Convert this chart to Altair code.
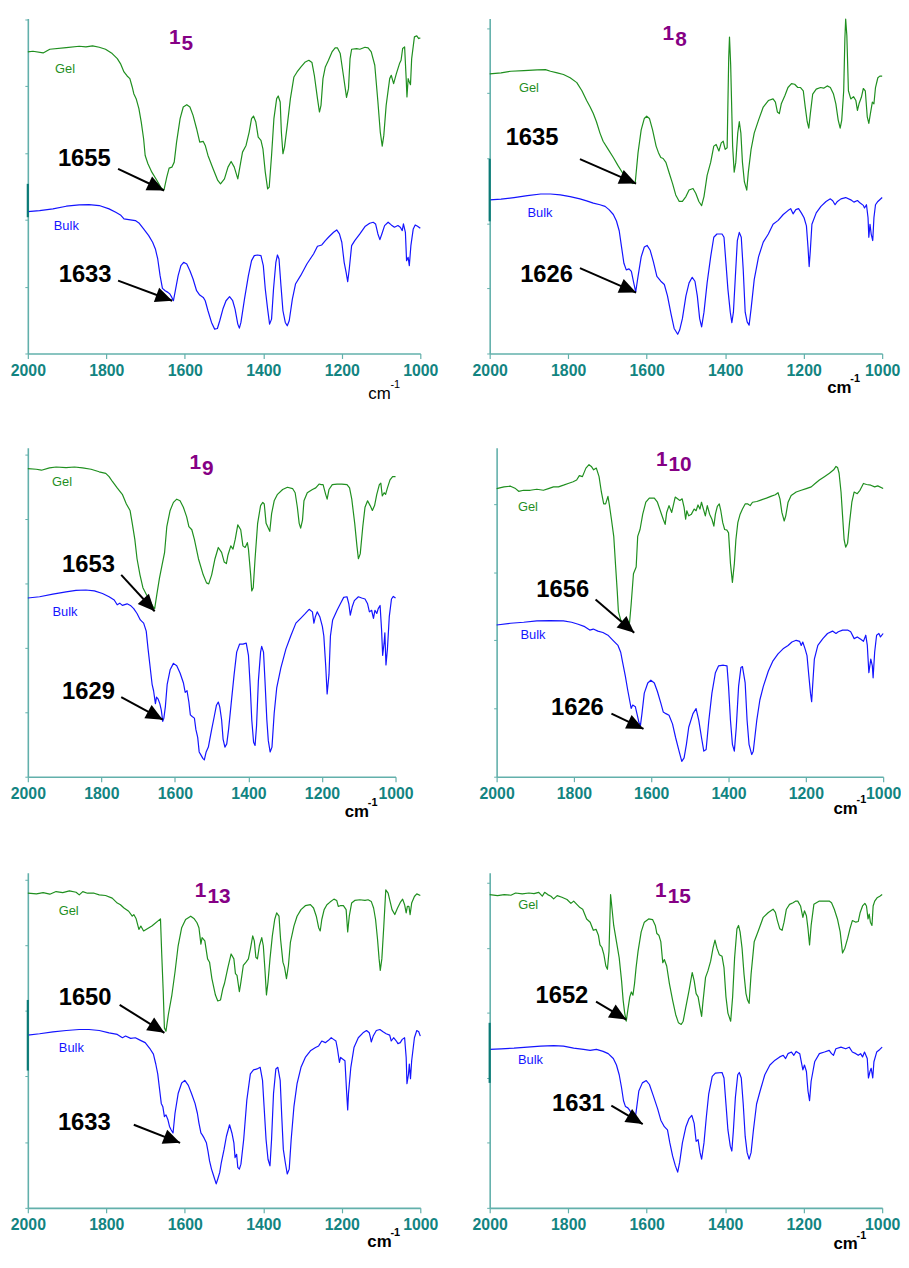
import math
import altair as alt
import pandas as pd

# ---------------- spectra (wavenumber cm-1, relative transmittance) ----------------
p1_gel_x = [2000,1987,1961,1944,1902,1869,1852,1835,1818,1802,1785,1772,1764,1755,1747,1740,1734,1730,1724,1717,
            1711,1705,1701,1694,1684,1671,1659,1653,1646,1640,1633,1627,1621,1612,1604,1595,1587,1579,1570,1562,
            1553,1548,1541,1528,1516,1509,1499,1490,1482,1474,1465,1459,1453,1444,1436,1430,1425,1419,1413,1406,
            1401,1395,1389,1385,1379,1373,1366,1362,1357,1354,1350,1346,1339,1331,1322,1314,1304,1293,1284,1276,
            1270,1262,1257,1253,1248,1242,1234,1225,1217,1211,1204,1196,1188,1183,1179,1175,1162,1154,1141,1133,
            1125,1116,1108,1102,1097,1093,1087,1078,1074,1068,1061,1053,1049,1045,1040,1036,1034,1031,1028,1025,
            1022,1015,1009,1004,1000]
p1_gel_y = [90.3,90.5,90.0,91.1,91.6,92.0,91.8,92.1,91.7,91.1,89.8,88.3,86.8,84.3,83.1,82.3,79.8,77.8,76.3,73.3,
            69.3,64.3,59.3,56.8,54.3,51.8,49.3,49.0,52.8,55.5,55.8,57.3,63.3,70.3,73.8,74.5,73.8,71.3,67.3,63.3,
            63.5,62.3,59.3,55.3,51.8,50.8,52.3,55.8,57.5,55.8,52.3,56.3,60.3,62.3,66.3,70.3,71.1,69.3,64.8,63.8,
            61.3,54.3,49.3,49.8,59.3,70.3,76.3,77.1,75.3,66.3,59.8,61.8,68.3,76.3,82.8,84.3,85.8,87.3,87.8,87.1,
            83.3,76.3,72.3,74.3,82.3,85.8,87.8,90.3,91.5,91.5,89.8,83.3,76.7,79.3,88.3,91.1,91.3,91.1,91.7,91.5,
            90.3,86.3,75.3,66.3,62.1,65.3,74.3,82.3,83.3,80.8,83.8,86.8,87.8,91.3,91.8,82.3,76.8,82.3,81.3,80.5,
            88.3,94.8,95.1,94.3,94.5]
p1_bulk_x = [2000,1970,1936,1902,1869,1844,1818,1793,1776,1764,1755,1743,1726,1717,1705,1692,1682,1675,1669,1663,
             1657,1650,1643,1638,1633,1629,1625,1617,1610,1603,1595,1587,1579,1570,1562,1553,1548,1541,1532,1524,
             1517,1511,1503,1495,1486,1478,1472,1465,1461,1457,1448,1438,1430,1423,1415,1406,1400,1395,1389,1384,
             1379,1374,1368,1364,1360,1355,1350,1344,1339,1334,1326,1318,1305,1289,1272,1262,1251,1242,1234,1221,
             1213,1206,1200,1194,1189,1185,1181,1175,1167,1154,1141,1129,1120,1114,1108,1103,1098,1091,1082,1074,
             1066,1057,1051,1046,1043,1038,1035,1031,1028,1024,1018,1013,1007,1000]
p1_bulk_y = [42.5,42.8,43.3,44.1,44.5,44.6,44.3,43.3,42.3,41.5,40.3,40.1,39.8,39.1,37.3,35.3,33.3,31.3,28.3,23.3,
             19.5,18.8,18.3,17.8,16.8,15.8,18.3,23.3,26.3,27.3,26.8,24.8,22.3,18.8,17.5,16.8,15.8,12.8,9.3,7.3,
             7.5,9.8,13.3,15.8,17.0,15.8,13.3,8.8,7.6,9.3,16.3,23.3,27.8,29.3,29.5,29.3,26.3,19.3,13.3,8.8,
             10.3,19.3,27.3,29.5,28.3,20.3,12.8,9.3,8.3,9.8,16.3,20.8,23.3,26.8,29.8,32.1,32.5,33.8,34.8,36.3,
             37.0,35.8,33.3,27.3,24.3,21.5,25.3,32.3,33.8,35.8,38.0,39.0,39.3,38.8,35.8,34.1,35.8,38.3,39.3,38.5,
             37.8,38.3,37.8,36.8,38.8,36.3,27.8,28.8,26.3,32.3,37.3,38.5,38.1,37.5]

p2_gel_x = [2000,1971,1946,1913,1879,1858,1845,1828,1812,1795,1778,1765,1753,1744,1736,1728,1719,1711,1698,1685,
            1673,1660,1648,1635,1629,1622,1614,1606,1600,1593,1585,1576,1570,1564,1558,1551,1542,1534,1526,1517,
            1509,1500,1492,1482,1475,1467,1460,1454,1446,1437,1429,1423,1416,1410,1405,1400,1395,1391,1389,1386,
            1381,1377,1373,1368,1364,1360,1356,1351,1345,1341,1334,1326,1315,1303,1290,1278,1272,1267,1262,1257,
            1248,1240,1231,1223,1215,1208,1201,1196,1191,1187,1183,1177,1168,1157,1149,1140,1132,1124,1118,1112,
            1107,1103,1098,1095,1093,1090,1086,1080,1073,1067,1063,1059,1053,1048,1043,1038,1034,1030,1025,1021,
            1017,1011,1006,1000]
p2_gel_y = [85.9,86.2,86.7,86.9,87.1,87.2,86.7,86.2,85.7,84.7,83.2,80.7,77.7,75.7,73.7,71.2,67.7,65.2,62.7,60.2,
            57.7,55.2,53.2,52.2,52.7,61.7,68.7,72.2,72.9,72.2,68.7,63.7,61.7,60.2,59.9,58.7,55.2,52.2,48.7,46.7,
            46.7,48.2,50.2,50.7,49.2,46.7,45.4,48.2,54.7,58.7,63.7,64.2,62.2,64.7,65.2,62.7,63.2,90.7,97.2,88.7,
            63.7,55.7,58.7,67.7,71.2,67.7,58.7,52.7,50.2,55.7,62.7,67.7,71.7,75.7,77.7,78.2,77.2,74.2,73.7,76.7,
            79.2,81.7,82.9,82.7,81.7,81.7,80.7,75.7,71.2,69.2,73.7,79.7,81.2,81.7,81.5,82.2,81.7,79.7,76.7,71.7,
            69.2,71.7,80.7,96.7,102.7,97.7,80.7,78.2,78.9,77.7,74.7,76.7,78.7,81.4,80.7,72.7,70.7,73.7,77.2,76.7,
            81.7,84.7,85.2,85.2]
p2_bulk_x = [2000,1971,1938,1904,1870,1845,1820,1795,1770,1753,1736,1719,1706,1696,1685,1677,1670,1664,1658,1652,
             1645,1639,1633,1628,1622,1614,1606,1599,1591,1583,1574,1564,1555,1547,1538,1530,1521,1516,1509,1500,
             1492,1484,1477,1471,1465,1460,1454,1446,1437,1429,1421,1408,1403,1398,1393,1387,1383,1379,1374,1369,
             1364,1359,1354,1349,1344,1339,1334,1326,1315,1303,1290,1278,1265,1252,1240,1233,1227,1220,1213,1206,
             1199,1193,1189,1186,1183,1179,1168,1156,1143,1132,1126,1120,1114,1105,1093,1080,1072,1063,1056,1048,
             1045,1040,1036,1034,1031,1028,1024,1021,1017,1011,1000]
p2_bulk_y = [47.2,47.4,47.9,48.5,49.0,49.0,48.7,48.2,47.5,46.9,46.2,45.7,45.2,44.2,42.7,40.7,37.7,32.7,27.7,25.7,
             26.0,25.2,21.7,18.9,23.7,29.7,32.7,33.2,31.7,28.2,23.7,22.2,21.2,17.7,12.2,7.7,5.9,7.2,10.7,17.7,
             21.7,23.4,22.2,17.7,10.7,8.2,12.7,21.7,29.7,35.7,36.7,36.7,35.7,27.7,19.7,12.7,9.5,12.7,23.7,34.7,
             37.2,35.7,25.7,12.7,9.7,8.7,13.7,22.7,29.7,34.2,36.7,39.7,40.9,42.7,43.9,44.5,42.9,44.2,44.5,43.2,
             41.7,39.2,32.7,26.7,31.7,39.7,43.2,45.2,46.7,47.5,46.9,45.7,46.7,47.5,47.9,47.2,46.5,47.0,46.2,45.5,
             44.7,45.7,41.7,35.7,39.7,36.7,34.7,41.7,45.7,46.7,47.9]

p3_gel_x = [2000,1977,1963,1941,1923,1896,1873,1851,1828,1806,1788,1779,1770,1757,1743,1732,1722,1716,1709,1703,
            1695,1687,1678,1669,1660,1655,1649,1642,1635,1628,1622,1613,1604,1595,1586,1577,1568,1562,1554,1547,
            1536,1523,1514,1508,1500,1491,1482,1473,1466,1460,1456,1448,1442,1436,1429,1421,1415,1409,1403,1400,
            1394,1391,1387,1382,1375,1367,1361,1357,1352,1348,1342,1337,1330,1321,1307,1294,1280,1273,1267,1262,
            1258,1253,1249,1240,1226,1217,1208,1202,1197,1190,1186,1181,1172,1159,1146,1132,1125,1119,1111,1105,
            1101,1096,1089,1083,1076,1069,1063,1057,1051,1044,1040,1036,1031,1027,1022,1015,1008,1000]
p3_gel_y = [95.7,95.5,95.2,95.9,96.2,96.0,96.2,95.9,95.5,94.7,94.2,93.2,91.7,89.7,87.7,84.7,82.7,78.7,73.7,67.7,
            62.7,58.7,56.7,54.7,52.9,52.2,56.7,61.7,65.7,69.7,77.7,82.7,85.2,86.2,85.7,83.7,80.7,77.7,76.7,73.7,
            67.7,62.7,60.2,59.9,62.7,67.7,71.2,69.7,66.7,66.2,68.7,71.7,70.7,73.7,78.2,76.7,71.7,71.2,72.7,70.7,
            62.7,57.7,58.7,67.7,78.7,84.2,85.2,84.7,78.7,77.7,76.2,81.7,85.7,87.7,89.2,89.9,89.5,88.2,83.7,78.7,
            77.2,79.7,85.7,88.2,89.2,89.7,90.9,90.7,90.7,87.7,86.2,89.2,90.7,90.9,90.9,90.7,89.7,86.2,78.7,71.7,
            67.7,69.2,77.7,83.7,85.7,84.2,82.7,84.2,87.7,90.7,91.2,87.2,88.2,87.7,89.7,92.2,93.2,93.2]
p3_bulk_x = [2000,1968,1932,1896,1869,1842,1819,1797,1779,1765,1757,1750,1743,1730,1721,1712,1703,1694,1685,1678,
             1673,1667,1662,1658,1653,1650,1646,1641,1637,1633,1630,1626,1621,1613,1604,1595,1586,1577,1572,1567,
             1562,1558,1553,1547,1543,1538,1534,1529,1524,1520,1515,1509,1505,1500,1493,1487,1482,1478,1473,1469,
             1464,1459,1454,1447,1439,1432,1424,1415,1406,1400,1395,1391,1386,1382,1378,1373,1367,1364,1359,1355,
             1350,1346,1341,1336,1330,1323,1312,1298,1285,1271,1258,1247,1235,1226,1222,1218,1213,1206,1199,1195,
             1190,1186,1181,1177,1171,1159,1150,1141,1132,1127,1123,1118,1112,1101,1092,1083,1076,1071,1065,1060,
             1056,1051,1047,1042,1038,1035,1031,1029,1026,1022,1017,1011,1006,1000]
p3_bulk_y = [55.5,55.9,56.7,57.4,57.9,58.0,57.7,56.9,55.9,54.9,53.4,53.9,53.2,53.7,53.2,52.2,50.7,48.7,47.7,45.2,
             39.7,33.7,28.7,26.7,22.7,24.7,24.2,22.7,20.7,17.2,18.2,21.7,28.7,33.2,35.2,34.5,32.2,29.2,26.2,26.7,
             23.2,19.2,18.7,18.2,14.7,12.2,7.7,6.7,5.7,5.2,7.7,9.2,11.7,14.7,18.7,22.2,23.2,21.7,17.7,11.7,
             9.2,10.2,14.7,22.7,31.7,38.7,41.2,41.2,41.5,37.7,27.7,17.7,10.7,9.7,15.7,29.7,38.7,40.5,38.7,29.7,
             17.7,11.2,7.7,9.2,19.7,27.7,33.7,39.7,43.7,47.7,49.2,50.5,52.0,51.2,47.7,49.7,51.2,49.7,46.7,43.7,
             34.7,25.7,31.7,43.7,48.7,51.7,53.7,55.7,55.9,53.7,50.2,52.7,54.7,55.9,55.5,55.2,53.7,51.2,51.7,49.2,
             51.7,50.7,52.2,53.2,45.7,37.7,41.7,44.7,34.7,39.7,49.7,55.2,56.0,55.5]

p4_gel_x = [2000,1981,1964,1951,1943,1930,1913,1896,1879,1866,1853,1840,1827,1815,1802,1793,1786,1778,1769,1761,
            1755,1749,1742,1735,1729,1723,1718,1712,1708,1703,1697,1692,1688,1685,1679,1674,1667,1661,1656,1652,
            1646,1639,1635,1629,1622,1614,1605,1592,1584,1575,1569,1564,1560,1554,1547,1544,1538,1532,1526,1520,
            1515,1511,1508,1503,1496,1489,1484,1479,1474,1470,1465,1460,1455,1449,1443,1438,1434,1429,1424,1420,
            1415,1410,1404,1400,1395,1390,1385,1381,1376,1370,1364,1357,1350,1344,1338,1327,1315,1302,1289,1279,
            1272,1267,1262,1256,1252,1246,1238,1225,1212,1199,1186,1176,1165,1152,1139,1128,1122,1118,1114,1109,
            1105,1101,1097,1092,1087,1081,1075,1067,1060,1051,1043,1032,1022,1014,1000]
p4_gel_y = [84.5,85.0,85.2,84.5,83.7,84.0,84.0,84.3,84.0,84.5,85.0,85.0,85.5,86.0,86.5,87.0,88.3,88.0,90.5,91.5,
            91.0,90.0,90.5,88.0,83.5,80.0,80.0,82.2,79.5,75.5,70.5,61.5,54.5,48.5,46.0,45.3,45.0,44.5,45.3,50.5,
            59.5,61.5,70.5,72.5,77.0,80.5,81.7,81.7,80.5,77.5,75.5,74.0,77.5,79.5,77.5,79.0,82.0,81.5,81.0,81.5,
            79.0,75.5,78.0,76.5,77.0,78.5,78.0,79.7,78.5,80.5,78.5,76.5,79.5,77.0,75.5,73.5,77.0,79.3,80.0,78.0,
            74.5,72.5,72.3,71.5,62.5,57.0,62.5,69.5,74.5,77.0,78.5,80.0,80.0,79.5,80.5,80.7,81.2,81.7,82.3,82.7,
            83.3,81.5,77.5,75.0,76.5,80.5,82.5,83.5,84.0,84.5,85.0,86.0,87.0,88.0,89.0,90.0,91.0,90.7,89.0,83.5,
            76.5,69.5,67.3,68.5,74.5,80.5,83.5,83.0,84.0,86.0,85.7,85.5,85.0,85.3,84.5]
p4_bulk_x = [2000,1964,1930,1896,1862,1827,1806,1789,1772,1759,1750,1738,1725,1712,1699,1686,1679,1674,1667,1661,
             1656,1652,1648,1641,1637,1632,1628,1624,1618,1609,1601,1592,1584,1575,1569,1562,1554,1545,1537,1528,
             1521,1515,1509,1503,1492,1484,1477,1470,1464,1458,1451,1443,1434,1426,1413,1404,1400,1395,1390,1385,
             1380,1374,1368,1364,1357,1352,1347,1340,1336,1327,1319,1310,1297,1285,1272,1259,1246,1236,1225,1216,
             1212,1208,1202,1197,1193,1188,1185,1182,1178,1169,1156,1144,1131,1122,1116,1105,1092,1084,1075,1067,
             1058,1051,1045,1041,1037,1032,1028,1026,1022,1017,1011,1007,1000]
p4_bulk_y = [44.5,45.0,45.3,45.7,45.8,45.7,45.3,44.7,44.0,43.0,43.3,42.7,42.3,41.5,40.0,38.5,36.5,33.5,29.5,25.5,
             22.5,20.0,21.0,20.5,18.5,16.0,15.0,18.5,24.5,27.5,28.3,27.5,25.0,21.5,19.0,18.5,18.0,15.5,11.5,7.5,
             4.5,5.5,9.5,14.5,18.5,20.0,16.5,11.5,7.5,8.0,16.5,24.5,30.5,32.5,32.7,32.5,26.5,16.5,9.5,7.5,
             14.5,26.5,32.0,32.3,27.5,16.5,9.5,6.5,7.5,16.5,22.5,26.5,31.0,34.0,36.0,37.5,38.5,39.5,40.0,39.7,
             38.5,39.5,37.5,35.5,30.5,24.5,22.0,27.5,34.5,38.5,40.5,42.0,42.7,42.0,42.5,43.0,43.0,42.5,40.5,41.0,
             40.3,39.7,41.5,38.5,30.5,34.5,32.5,29.0,36.5,41.5,42.0,41.0,42.0]

p5_gel_x = [2000,1978,1961,1944,1928,1911,1894,1877,1869,1860,1848,1831,1818,1802,1785,1772,1764,1755,1743,1734,
            1730,1724,1717,1712,1705,1684,1662,1659,1655,1652,1648,1642,1633,1625,1617,1608,1598,1585,1576,1569,
            1564,1559,1556,1549,1542,1537,1531,1522,1516,1509,1503,1499,1490,1482,1475,1471,1467,1461,1457,1451,
            1444,1438,1433,1427,1423,1419,1415,1410,1404,1400,1396,1392,1388,1383,1377,1371,1366,1360,1356,1350,
            1346,1341,1336,1331,1322,1314,1304,1293,1280,1272,1265,1259,1255,1251,1245,1238,1230,1220,1213,1209,
            1204,1196,1189,1185,1181,1175,1167,1154,1141,1133,1125,1119,1114,1109,1105,1102,1098,1093,1088,1082,
            1077,1072,1065,1058,1051,1045,1040,1036,1033,1029,1026,1022,1015,1009,1000]
p5_gel_y = [95.8,95.6,96.0,95.5,96.3,96.0,96.5,96.1,95.3,96.3,95.8,95.8,95.3,95.1,94.3,92.8,92.3,91.3,90.3,88.8,
            89.3,88.0,84.8,85.8,84.3,85.8,88.0,77.8,65.8,54.8,53.8,58.8,64.8,71.8,79.8,85.3,87.8,88.8,88.0,86.8,
            85.3,80.3,82.3,81.3,75.8,74.8,69.8,64.8,63.0,63.3,66.8,68.3,73.3,77.3,75.8,71.3,70.8,65.8,68.8,73.8,
            74.8,75.8,78.8,82.8,81.3,76.3,75.8,79.8,82.3,79.8,72.8,64.8,68.8,75.8,82.8,87.8,89.8,88.8,81.8,74.8,
            73.3,69.8,73.8,80.8,85.8,88.8,90.8,92.0,92.3,91.3,88.8,85.3,84.3,87.8,90.8,92.3,93.1,94.0,93.6,91.8,
            92.0,92.0,90.8,84.0,88.8,92.8,93.6,93.8,93.6,93.8,93.3,91.3,87.8,81.8,75.8,72.3,75.8,85.8,96.8,95.8,
            93.3,90.8,89.3,91.3,93.0,94.0,92.3,89.8,91.8,91.8,89.3,92.8,94.8,95.6,95.1]
p5_bulk_x = [2000,1970,1936,1902,1869,1844,1818,1793,1772,1759,1751,1738,1726,1713,1701,1688,1680,1674,1669,1664,
             1660,1656,1652,1648,1643,1639,1635,1630,1625,1617,1608,1600,1591,1583,1574,1568,1564,1559,1556,1551,
             1545,1541,1537,1532,1528,1524,1520,1516,1511,1507,1500,1494,1486,1480,1475,1472,1468,1465,1461,1457,
             1450,1442,1433,1425,1416,1408,1402,1398,1393,1388,1383,1379,1374,1368,1363,1357,1353,1349,1344,1339,
             1334,1329,1322,1314,1304,1293,1280,1267,1259,1251,1242,1234,1227,1221,1215,1211,1206,1203,1198,1192,
             1188,1185,1183,1177,1169,1158,1146,1137,1130,1127,1125,1120,1112,1103,1095,1087,1078,1074,1068,1061,
             1057,1051,1046,1040,1036,1034,1030,1028,1025,1022,1015,1009,1004,1000]
p5_bulk_y = [52.6,53.0,53.6,54.0,54.3,54.3,54.0,53.3,52.8,51.8,52.3,51.6,51.8,51.0,50.3,48.3,46.8,43.8,40.8,35.8,
             31.8,30.8,27.8,28.3,26.8,24.8,23.8,22.8,28.8,34.8,38.0,38.8,37.3,34.8,31.8,28.8,25.8,22.8,22.3,21.3,
             19.8,17.3,14.3,11.8,10.3,8.8,7.3,8.8,10.8,13.8,17.8,21.8,25.3,22.8,19.8,15.3,16.3,12.3,11.8,13.3,
             20.8,32.8,40.8,42.0,42.3,42.8,38.8,30.8,20.8,14.8,12.8,20.8,34.8,42.3,42.8,38.8,27.8,17.8,13.8,10.3,
             11.8,20.8,30.8,37.8,42.8,45.8,47.8,48.8,49.3,50.8,50.3,51.0,51.8,51.3,50.8,48.3,44.3,45.8,45.3,44.8,
             35.8,29.8,34.8,42.8,48.8,51.8,53.3,54.0,53.3,51.8,50.5,52.3,54.0,54.3,53.6,53.0,52.6,50.8,51.8,50.8,
             50.0,50.3,51.3,51.8,45.8,37.8,40.8,43.8,39.3,44.8,51.8,54.0,53.6,52.3]

p6_gel_x = [2000,1980,1963,1946,1934,1917,1900,1887,1875,1866,1860,1852,1844,1837,1828,1816,1803,1793,1786,1778,
            1770,1763,1753,1744,1736,1729,1723,1719,1714,1709,1704,1700,1696,1692,1689,1684,1677,1670,1664,1660,
            1656,1652,1648,1643,1639,1635,1631,1627,1622,1614,1606,1595,1585,1578,1574,1569,1564,1559,1555,1549,
            1542,1534,1526,1519,1512,1507,1500,1492,1484,1479,1474,1469,1464,1460,1457,1450,1444,1437,1431,1426,
            1421,1415,1408,1403,1398,1393,1386,1381,1376,1370,1366,1362,1357,1352,1347,1343,1339,1334,1326,1315,
            1303,1290,1278,1272,1267,1261,1255,1250,1244,1236,1227,1220,1215,1208,1202,1198,1193,1189,1185,1181,
            1174,1160,1147,1135,1129,1122,1114,1107,1101,1095,1088,1082,1076,1067,1061,1056,1050,1044,1040,1036,
            1033,1030,1026,1023,1019,1013,1006,1000]
p6_gel_y = [96.5,96.2,96.5,96.3,97.0,96.7,97.0,96.8,97.2,96.0,97.2,96.5,96.0,95.2,96.2,95.7,95.0,93.8,94.5,93.5,
            92.5,92.0,89.0,88.0,85.5,85.8,84.0,81.0,80.2,78.0,74.5,73.5,79.0,96.5,93.0,87.0,82.0,77.0,70.0,64.0,
            60.0,57.5,61.0,65.0,66.5,65.5,69.0,74.0,79.0,85.0,88.0,89.0,88.8,87.0,84.5,84.0,82.0,75.5,76.5,74.5,
            69.0,64.0,59.5,57.0,56.5,57.5,62.0,67.0,72.5,70.0,66.0,65.0,61.5,59.0,63.0,71.0,73.0,76.0,80.0,82.5,
            80.0,78.0,77.5,74.0,65.0,60.0,57.5,65.0,77.0,86.0,87.0,85.0,80.0,72.0,66.0,64.0,63.0,72.0,82.0,85.5,
            89.5,91.0,92.0,91.0,88.5,86.0,85.5,88.0,92.0,93.5,94.0,94.5,94.5,93.0,89.5,91.5,90.0,86.0,81.0,87.0,
            93.5,94.5,94.5,94.5,94.0,92.0,89.0,85.0,78.5,80.0,83.0,86.0,88.5,88.0,88.2,91.0,93.0,93.8,93.0,89.0,
            90.5,88.0,87.0,93.0,94.5,95.5,96.0,96.5]
p6_bulk_x = [2000,1971,1938,1904,1870,1837,1812,1786,1761,1744,1728,1711,1698,1685,1677,1670,1664,1659,1654,1648,
             1643,1639,1635,1631,1627,1620,1611,1601,1593,1583,1572,1564,1555,1547,1541,1534,1527,1521,1516,1509,
             1500,1492,1485,1479,1474,1469,1464,1460,1454,1448,1442,1433,1425,1408,1403,1398,1393,1387,1383,1379,
             1374,1368,1364,1359,1354,1349,1344,1339,1334,1328,1320,1311,1299,1286,1273,1261,1252,1246,1240,1231,
             1225,1219,1210,1206,1202,1198,1193,1189,1185,1181,1172,1160,1147,1135,1129,1124,1118,1105,1093,1084,
             1076,1067,1061,1055,1050,1045,1038,1035,1031,1028,1024,1021,1014,1006,1000]
p6_bulk_y = [48.8,49.0,49.2,49.5,49.8,50.0,49.8,49.2,48.8,48.5,48.8,48.2,47.5,46.0,44.0,41.0,37.0,33.0,31.2,30.8,
             30.0,29.0,28.0,26.5,29.5,36.0,38.5,39.2,38.0,34.5,30.5,27.0,25.0,24.0,20.0,16.0,13.0,11.0,14.0,20.0,
             25.0,27.5,28.5,26.0,20.5,21.0,17.0,15.0,20.0,28.0,35.0,40.5,41.5,41.7,40.0,32.0,24.0,19.0,17.5,24.0,
             34.0,41.0,41.7,40.0,32.0,22.0,17.0,15.0,17.0,24.0,32.0,36.0,41.0,44.0,45.5,46.5,47.0,46.0,47.5,48.0,
             47.0,48.2,47.5,45.0,42.5,44.0,42.0,36.0,33.0,39.0,45.0,47.5,48.0,48.5,47.5,47.0,49.0,49.5,49.0,49.5,
             48.0,47.5,47.0,47.5,46.5,48.0,46.0,40.0,42.0,43.0,40.0,45.0,48.0,48.8,49.5]

# ---------------- annotations ----------------
sample_subs = ["5", "8", "9", "10", "13", "15"]
title_x = [1611, 1530, 1529, 1558, 1545, 1549]
title_y = [94.5, 98.0, 97.5, 93.0, 96.5, 97.5]

peak_text = [["1655", "1633"], ["1635", "1626"], ["1653", "1629"],
             ["1656", "1626"], ["1650", "1633"], ["1652", "1631"]]
peak_text_x = [[1856, 1854], [1892, 1855], [1835, 1835], [1829, 1791], [1854, 1856], [1816, 1774]]
peak_text_y = [[58.3, 23.5], [66.2, 24.2], [65.7, 26.2], [54.7, 20.0], [63.8, 25.8], [65.2, 32.0]]
arrow_x1 = [[1770, 1770], [1770, 1770], [1746, 1746], [1744, 1703], [1766, 1730], [1729, 1690]]
arrow_y1 = [[55.3, 21.8], [59.7, 26.2], [62.7, 24.7], [52.0, 18.5], [61.8, 25.3], [63.5, 31.5]]
arrow_x2 = [[1653, 1632], [1627, 1627], [1655, 1633], [1644, 1620], [1652, 1612], [1652, 1610]]
arrow_y2 = [[48.8, 15.8], [52.2, 18.7], [51.4, 17.7], [42.2, 14.0], [53.3, 19.8], [58.0, 25.8]]

gel_lbl_x = [1905, 1900, 1907, 1919, 1896, 1902]
gel_lbl_y = [85.3, 81.5, 91.5, 79.2, 90.3, 93.2]
bulk_lbl_x = [1902, 1872, 1899, 1906, 1889, 1896]
bulk_lbl_y = [38.1, 43.2, 51.0, 41.5, 48.8, 45.5]

cm_x = [1104, 1109, 1105, 1097, 1104, 1093]
cm_bold = [False, True, True, True, True, True]
cm_drop = [41, 35, 36, 33, 34, 37]

axis_top = [100.3, 102.9, 102.2, 96.5, 102.0, 103.2]
dark_lo = [40.8, 40.6, None, None, 41.8, 38.5]
dark_hi = [50.8, 59.8, None, None, 63.3, 57.0]

panel_w = [396, 396, 371, 390, 396, 396]
panel_h = [338, 338, 332, 332, 338, 338]

spectra = [(p1_gel_x, p1_gel_y, p1_bulk_x, p1_bulk_y),
           (p2_gel_x, p2_gel_y, p2_bulk_x, p2_bulk_y),
           (p3_gel_x, p3_gel_y, p3_bulk_x, p3_bulk_y),
           (p4_gel_x, p4_gel_y, p4_bulk_x, p4_bulk_y),
           (p5_gel_x, p5_gel_y, p5_bulk_x, p5_bulk_y),
           (p6_gel_x, p6_gel_y, p6_bulk_x, p6_bulk_y)]

# ---------------- styles ----------------
FONT = "Liberation Sans"
GREEN = "#1f8f1f"
BLUE = "#1414ff"
PURPLE = "#850085"
AXIS_LINE = "#62b0ab"
AXIS_TEXT = "#128481"
DARK_AXIS = "#0b7a76"
HEAD_PATH = "M 0 0 L -1 -0.45 L -1 0.45 Z"
U = alt.Undefined


def curve_df(xs, ys):
    n = min(len(xs), len(ys))
    return pd.DataFrame({"x": xs[:n], "y": ys[:n], "i": list(range(n))})


def make_panel(k):
    w, h, top = panel_w[k], panel_h[k], axis_top[k]
    gx, gy, bx, by = spectra[k]
    xsc = alt.Scale(domain=[1000, 2000], reverse=True, nice=False, zero=False)
    ysc = alt.Scale(domain=[0, top], nice=False, zero=False)
    xaxis = alt.Axis(values=list(range(1000, 2001, 100)), format="d",
                     labelExpr="datum.value % 200 == 0 ? datum.label : ''",
                     title=None, grid=False, tickSize=5, tickColor=AXIS_LINE, tickWidth=1.2,
                     domainColor=AXIS_LINE, domainWidth=1.6, labelPadding=4,
                     labelFont=FONT, labelFontSize=16, labelFontWeight="bold",
                     labelColor=AXIS_TEXT, labelOverlap=False, labelFlush=False)
    yticks = [v * 5 for v in range(0, int(top // 5) + 1)]
    yaxis = alt.Axis(values=yticks, labels=False, title=None, grid=False,
                     tickSize=3, tickColor=AXIS_LINE, domainColor=AXIS_LINE, domainWidth=1.6)

    def X(ax=U):
        return alt.X("x:Q", scale=xsc, axis=ax)

    def Y(ax=U):
        return alt.Y("y:Q", scale=ysc, axis=ax)

    gel = alt.Chart(curve_df(gx, gy)).mark_line(color=GREEN, strokeWidth=1.2,
                                                strokeJoin="round").encode(
        x=X(xaxis), y=Y(yaxis), order="i:Q")
    bulk = alt.Chart(curve_df(bx, by)).mark_line(color=BLUE, strokeWidth=1.2,
                                                 strokeJoin="round").encode(
        x=X(), y=Y(), order="i:Q")

    ang = []
    for a in range(len(arrow_x1[k])):
        dxp = -(arrow_x2[k][a] - arrow_x1[k][a]) * w / 1000.0
        dyp = -(arrow_y2[k][a] - arrow_y1[k][a]) * h / top
        ang.append(math.degrees(math.atan2(dyp, dxp)) % 360)
    arr = pd.DataFrame({"x": arrow_x1[k], "y": arrow_y1[k],
                        "x2": arrow_x2[k], "y2": arrow_y2[k], "ang": ang})
    shafts = alt.Chart(arr).mark_rule(color="black", strokeWidth=2).encode(
        x=X(), y=Y(), x2="x2:Q", y2="y2:Q")
    heads = alt.Chart(arr).mark_point(shape=HEAD_PATH, filled=True, size=1150,
                                      color="black", opacity=1, strokeWidth=0).encode(
        x=alt.X("x2:Q", scale=xsc), y=alt.Y("y2:Q", scale=ysc),
        angle=alt.Angle("ang:Q", scale=None))

    nums = alt.Chart(pd.DataFrame({"x": peak_text_x[k], "y": peak_text_y[k], "t": peak_text[k]})
                     ).mark_text(font=FONT, fontSize=24, fontWeight="bold", color="black",
                                 align="center", baseline="middle").encode(x=X(), y=Y(), text="t:N")

    gl = alt.Chart(pd.DataFrame({"x": [gel_lbl_x[k]], "y": [gel_lbl_y[k]], "t": ["Gel"]})
                   ).mark_text(font=FONT, fontSize=13, color=GREEN, align="center",
                               baseline="middle").encode(x=X(), y=Y(), text="t:N")
    bl = alt.Chart(pd.DataFrame({"x": [bulk_lbl_x[k]], "y": [bulk_lbl_y[k]], "t": ["Bulk"]})
                   ).mark_text(font=FONT, fontSize=13, color=BLUE, align="center",
                               baseline="middle").encode(x=X(), y=Y(), text="t:N")

    tdf = pd.DataFrame({"x": [title_x[k]], "y": [title_y[k]], "a": ["1"], "b": [sample_subs[k]]})
    t1 = alt.Chart(tdf).mark_text(font=FONT, fontSize=21, fontWeight="bold", color=PURPLE,
                                  align="right", baseline="middle").encode(x=X(), y=Y(), text="a:N")
    t2 = alt.Chart(tdf).mark_text(font=FONT, fontSize=21, fontWeight="bold", color=PURPLE,
                                  align="left", baseline="middle", dx=1, dy=6).encode(
        x=X(), y=Y(), text="b:N")

    cdf = pd.DataFrame({"x": [cm_x[k]], "y": [0.0], "a": ["cm"], "b": ["-1"]})
    cw = "bold" if cm_bold[k] else "normal"
    c1 = alt.Chart(cdf).mark_text(font=FONT, fontSize=17, fontWeight=cw, color="black",
                                  align="center", baseline="middle", dy=cm_drop[k]).encode(
        x=X(), y=Y(), text="a:N")
    c2 = alt.Chart(cdf).mark_text(font=FONT, fontSize=11, fontWeight=cw, color="black",
                                  align="left", baseline="middle", dx=11, dy=cm_drop[k] - 9).encode(
        x=X(), y=Y(), text="b:N")

    layers = [gel, bulk, shafts, heads, nums, gl, bl, t1, t2, c1, c2]
    if dark_lo[k] is not None:
        ddf = pd.DataFrame({"x": [2000], "y": [dark_lo[k]], "y2": [dark_hi[k]]})
        layers.append(alt.Chart(ddf).mark_rule(color=DARK_AXIS, strokeWidth=2.2).encode(
            x=X(), y=Y(), y2="y2:Q"))
    return alt.layer(*layers).properties(width=w, height=h)


p = [make_panel(k) for k in range(6)]
row1 = alt.hconcat(p[0], p[1], spacing=34)
row2 = alt.hconcat(p[2], p[3], spacing=66)
row3 = alt.hconcat(p[4], p[5], spacing=34)

upper = alt.vconcat(row1, row2, spacing=46)
chart = alt.vconcat(upper, row3, spacing=53).properties(
    padding={"left": 2, "top": 5, "right": 0, "bottom": 0},
    background="white",
).configure_view(stroke=None)

chart.save("out.html", embed_options={"renderer": "svg", "actions": False})
